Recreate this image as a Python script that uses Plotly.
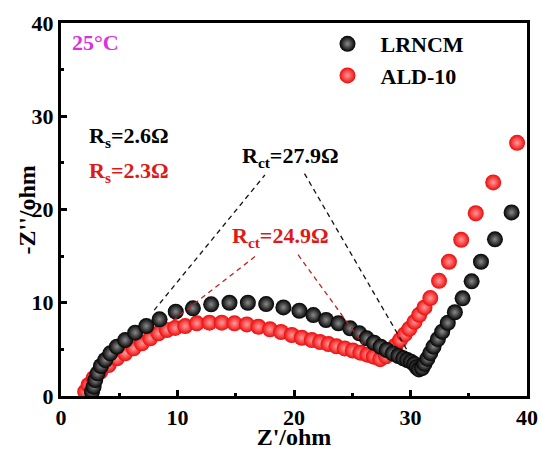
import plotly.graph_objects as go

# ---- data ----
lrncm_x = [2.66, 2.80, 2.94, 3.14, 3.43, 3.80, 4.23, 4.80, 5.51, 6.37, 7.32, 8.46, 9.85,
           11.32, 12.89, 14.46, 16.04, 17.61, 19.09, 20.46, 21.66, 22.75, 23.81, 24.82,
           25.61, 26.24, 26.87, 27.44, 27.96, 28.47, 28.96, 29.38, 29.72, 30.04, 30.33,
           30.53, 30.73, 31.00, 31.20, 31.45, 31.70, 31.98, 32.35, 32.72, 33.20, 33.81,
           34.47, 35.25, 36.05, 37.25, 38.68]
lrncm_y = [0.46, 1.00, 1.71, 2.43, 3.22, 3.86, 4.58, 5.29, 6.00, 6.79, 7.50, 8.22, 9.04,
           9.40, 9.83, 10.00, 10.00, 9.86, 9.50, 9.14, 8.68, 8.15, 7.79, 7.26,
           6.72, 6.18, 5.71, 5.28, 4.93, 4.57, 4.29, 4.04, 3.86, 3.68, 3.43,
           3.08, 2.85, 3.00, 3.45, 4.00, 4.60, 5.30, 6.10, 6.90, 7.85, 8.98,
           10.47, 12.30, 14.40, 16.80, 19.69]

ald_x = [2.08, 2.37, 2.80, 3.37, 4.09, 4.80, 5.51, 6.23, 6.95, 7.66, 8.37, 9.09, 9.80,
         10.66, 11.66, 12.74, 13.80, 14.89, 15.95, 16.95, 17.94, 18.89, 19.81, 20.67,
         21.53, 22.24, 22.96, 23.65, 24.35, 25.05, 25.70, 26.30, 26.85, 27.40, 27.90,
         28.30, 28.70, 29.10, 29.50, 29.90, 30.35, 30.75, 31.20, 31.70, 32.45, 33.30,
         34.35, 35.60, 37.10, 39.15]
ald_y = [0.46, 1.18, 1.90, 2.60, 3.32, 4.04, 4.58, 5.11, 5.65, 6.18, 6.72, 7.07, 7.30,
         7.50, 7.79, 7.86, 7.86, 7.79, 7.68, 7.43, 7.15, 6.86, 6.54, 6.25,
         6.00, 5.78, 5.57, 5.33, 5.10, 4.88, 4.65, 4.43, 4.22, 3.95, 4.25,
         4.80, 5.40, 6.00, 6.60, 7.20, 7.95, 8.70, 9.50, 10.50, 12.35, 14.40,
         16.75, 19.60, 22.90, 27.15]

# dashed guide lines (Rct construction)
rct_black_left_x = [8.0, 17.5]
rct_black_left_y = [9.2, 23.7]
rct_black_right_x = [20.9, 29.9]
rct_black_right_y = [23.85, 4.5]
rct_red_left_x = [9.6, 16.9]
rct_red_left_y = [8.1, 15.2]
rct_red_right_x = [20.35, 25.9]
rct_red_right_y = [15.15, 5.6]

x_ticks = [0, 10, 20, 30, 40]
y_ticks = [0, 10, 20, 30, 40]

FONT = "Liberation Serif, Times New Roman, serif"
BLACK = "#000000"
RED = "#ee0a0a"

fig = go.Figure()

fig.add_trace(go.Scatter(
    x=ald_x, y=ald_y, mode="markers", name="ALD-10", legendrank=2,
    marker=dict(size=16, color=RED, line=dict(width=0),
                gradient=dict(type="radial", color="#ff9a9a")),
))
fig.add_trace(go.Scatter(
    x=lrncm_x, y=lrncm_y, mode="markers", name="LRNCM", legendrank=1,
    marker=dict(size=16, color=BLACK, line=dict(width=0),
                gradient=dict(type="radial", color="#8a8a8a")),
))

for xs, ys, col in [(rct_black_left_x, rct_black_left_y, "#111111"),
                    (rct_black_right_x, rct_black_right_y, "#111111"),
                    (rct_red_left_x, rct_red_left_y, "#c42020"),
                    (rct_red_right_x, rct_red_right_y, "#c42020")]:
    fig.add_trace(go.Scatter(x=xs, y=ys, mode="lines", showlegend=False,
                             hoverinfo="skip",
                             line=dict(color=col, width=1.3, dash="5px,4px")))

ann = [
    dict(x=0.8, y=37.9, text="25°C", color="#dd30dd", xanchor="left"),
    dict(x=2.25, y=27.8, text="R<sub>s</sub>=2.6Ω", color=BLACK, xanchor="left"),
    dict(x=2.25, y=24.0, text="R<sub>s</sub>=2.3Ω", color="#e01818", xanchor="left"),
    dict(x=19.67, y=25.6, text="R<sub>ct</sub>=27.9Ω", color=BLACK, xanchor="center"),
    dict(x=18.87, y=17.0, text="R<sub>ct</sub>=24.9Ω", color="#e01818", xanchor="center"),
]
for a in ann:
    fig.add_annotation(x=a["x"], y=a["y"], xref="x", yref="y", text=a["text"],
                       showarrow=False, xanchor=a["xanchor"], yanchor="middle",
                       font=dict(family=FONT, size=22, color=a["color"], weight="bold"))

# y-axis title placed as rotated text (closer to the axis, as in the reference)
fig.add_annotation(x=-0.073, y=0.5, xref="paper", yref="paper", text="-Z''/ohm",
                   textangle=-90, showarrow=False, xanchor="center", yanchor="middle",
                   font=dict(family=FONT, size=24, color="black", weight="bold"))

axis_common = dict(
    showgrid=False, zeroline=False, showline=True, linecolor="black", linewidth=3,
    mirror=True, ticks="inside", ticklen=6, tickwidth=2.5, tickcolor="black",
    tickfont=dict(family=FONT, size=22, color="black", weight="bold"),
    minor=dict(ticks="inside", ticklen=3, tickwidth=2.5, tickcolor="black", dtick=5),
)

fig.update_xaxes(range=[0, 40], tickvals=x_ticks, **axis_common,
                 title=dict(text="Z'/ohm", standoff=0,
                            font=dict(family=FONT, size=24, color="black", weight="bold")))
fig.update_yaxes(range=[0, 40], tickvals=y_ticks, **axis_common)

fig.update_layout(
    width=541, height=450,
    margin=dict(l=61, r=14, t=23, b=54, autoexpand=False),
    plot_bgcolor="white", paper_bgcolor="white",
    font=dict(family=FONT, color="black", weight="bold"),
    legend=dict(x=0.544, y=1.0, xanchor="left", yanchor="top",
                bgcolor="rgba(0,0,0,0)", itemwidth=56,
                font=dict(family=FONT, size=22, color="black", weight="bold")),
    showlegend=True,
)

fig.write_html("out.html", config={"displayModeBar": False},
               post_script="document.body.style.margin='0px';document.body.style.overflow='hidden';")
